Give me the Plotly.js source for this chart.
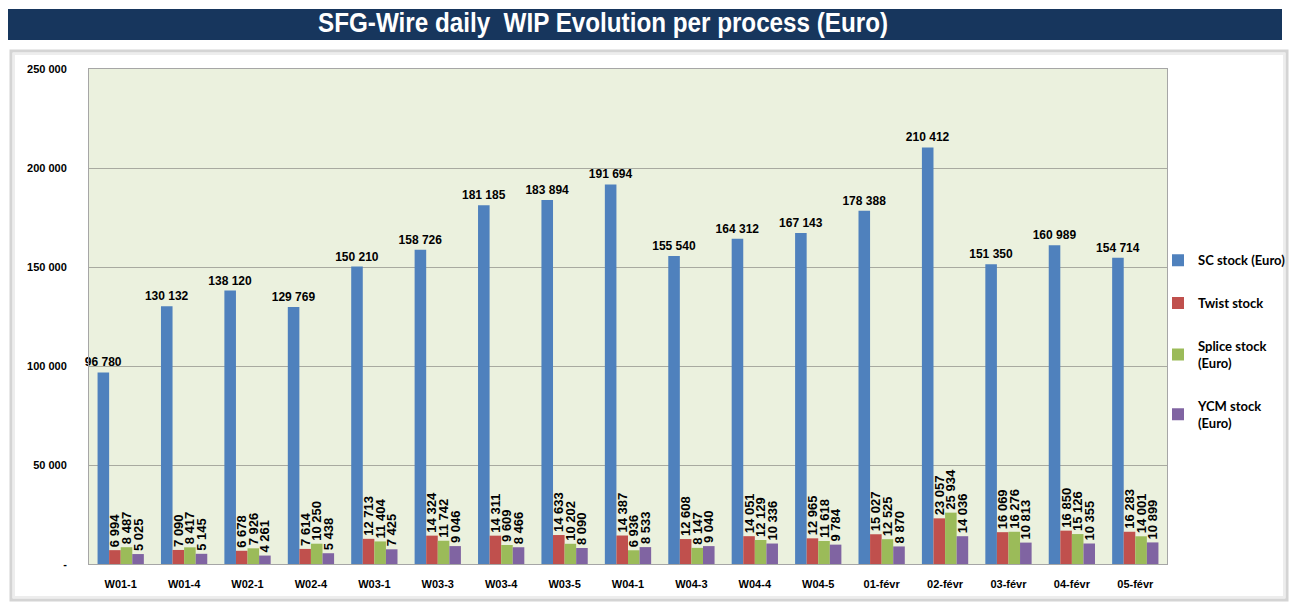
<!DOCTYPE html>
<html>
<head>
<meta charset="utf-8">
<script src="https://cdn.plot.ly/plotly-3.0.1.min.js"></script>
<style>html,body{margin:0;padding:0;background:#fff;}#chart{width:1295px;height:605px;}</style>
</head>
<body>
<div id="chart"></div>
<script>
const categories = ["W01-1","W01-4","W02-1","W02-4","W03-1","W03-3","W03-4","W03-5","W04-1","W04-3","W04-4","W04-5","01-févr","02-févr","03-févr","04-févr","05-févr"];
const scStock = [96780,130132,138120,129769,150210,158726,181185,183894,191694,155540,164312,167143,178388,210412,151350,160989,154714];
const twistStock = [6994,7090,6678,7614,12713,14324,14311,14633,14387,12608,14051,12965,15027,23057,16069,16850,16283];
const spliceStock = [8487,8417,7926,10250,11404,11742,9609,10202,6936,8147,12129,11618,12525,25934,16276,15126,14001];
const ycmStock = [5025,5145,4261,5438,7425,9046,8466,8090,8533,9040,10336,9784,8870,14036,10813,10355,10899];
const seriesNames = ["SC stock (Euro)","Twist stock","Splice stock<br>(Euro)","YCM stock<br>(Euro)"];
const yTickVals = [0,50000,100000,150000,200000,250000];
const yTickText = ["-","50 000","100 000","150 000","200 000","250 000"];

const colors = ["#4F81BD","#C0504D","#9BBB59","#8064A2"];
const fontFam = "Liberation Sans, Arial, sans-serif";
function fmt(v){ return String(v).replace(/\B(?=(\d{3})+(?!\d))/g," "); }

const allSeries = [scStock, twistStock, spliceStock, ycmStock];
const traces = allSeries.map((vals,i)=>({
  type:"bar", x:categories, y:vals, name:seriesNames[i], legendgroup:"g"+i,
  marker:{color:colors[i]},
  text: vals.map(fmt), textposition:"outside", textangle: i===0?0:-90,
  constraintext:"none", cliponaxis:false,
  textfont:{family:fontFam, size: i===0?12:13, color:"#000", weight:"bold"},
  hoverinfo:"x+y"
}));

const layout = {
  width:1295, height:605,
  margin:{l:89, r:128, t:69, b:41, autoexpand:false},
  paper_bgcolor:"#ffffff", plot_bgcolor:"#EBF1DE",
  barmode:"group", bargap:0.27, bargroupgap:0,
  showlegend:true,
  legend:{x:(1158-89)/1078, y:0.644, xanchor:"left", yanchor:"top", traceorder:"grouped", tracegroupgap:23,
    font:{family:"Lato, Liberation Sans, sans-serif", size:13, color:"#000", weight:"bold"}, bgcolor:"rgba(0,0,0,0)", itemwidth:30},
  title:{text:"SFG-Wire daily&nbsp; WIP Evolution per process (Euro)", x:0.4657, xref:"container", xanchor:"center",
    y:0.962, yref:"container", yanchor:"middle",
    font:{family:"Liberation Sans Narrow, Arial Narrow, sans-serif", size:27, color:"#ffffff", weight:"bold"}},
  xaxis:{type:"category", showgrid:false, showline:true, mirror:true, linecolor:"#A6A6A6", linewidth:1,
    ticks:"", ticklabelstandoff:10, tickfont:{family:fontFam, size:11, color:"#000", weight:"bold"}},
  yaxis:{range:[0,250000], tickvals:yTickVals, ticktext:yTickText, showgrid:true, gridcolor:"#A8AAA0", gridwidth:1,
    showline:true, mirror:true, linecolor:"#A6A6A6", linewidth:1, zeroline:false, ticks:"",
    ticklabelstandoff:19, tickfont:{family:fontFam, size:11, color:"#000", weight:"bold"}},
  shapes:[
    {type:"rect", xref:"paper", yref:"paper", x0:(8-89)/1078, x1:(1282-89)/1078, y0:(564-40)/495, y1:(564-9)/495,
      fillcolor:"#17365D", line:{width:0}, layer:"below"},
    {type:"rect", xref:"paper", yref:"paper", x0:(11-89)/1078, x1:(1287-89)/1078, y0:(564-600)/495, y1:(564-51)/495,
      fillcolor:"rgba(0,0,0,0)", line:{color:"#D4D4D4", width:3}, layer:"below"},
    {type:"rect", xref:"paper", yref:"paper", x0:(14-89)/1078, x1:(1284-89)/1078, y0:(564-597)/495, y1:(564-54)/495,
      fillcolor:"rgba(0,0,0,0)", line:{color:"#EDEDED", width:2}, layer:"below"}
  ]
};

Plotly.newPlot("chart", traces, layout, {displayModeBar:false, staticPlot:true}).then(gd=>{
  const t = gd.querySelector(".gtitle");
  if (t) {
    const bb = t.getBBox();
    if (bb.width > 575) {
      t.setAttribute("textLength", "570");
      t.setAttribute("lengthAdjust", "spacingAndGlyphs");
    }
  }
});
</script>
</body>
</html>
